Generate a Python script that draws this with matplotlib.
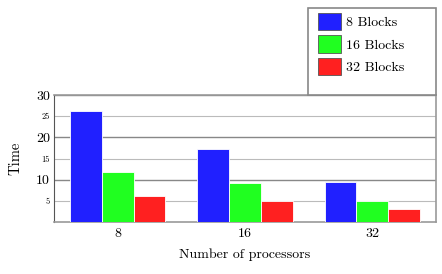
#--------------------------------------------------
# processors vs time, grouped bar chart
#--------------------------------------------------
import matplotlib as mpl
mpl.use("Agg")
import matplotlib.pyplot as plt
import numpy as np
from matplotlib.patches import Rectangle

plt.rcParams['font.family'] = ['cmr10', 'DejaVu Serif']
plt.rcParams['axes.formatter.use_mathtext'] = True

# data
processors = ['8', '16', '32']
series_names = ['8 Blocks', '16 Blocks', '32 Blocks']
blocks8 = [26.2, 17.3, 9.4]
blocks16 = [11.8, 9.2, 5.0]
blocks32 = [6.1, 5.0, 3.0]
colors = ['#2020ff', '#20ff20', '#ff2020']

fig = plt.figure(figsize=(4.42, 2.74), dpi=100)
ax = fig.add_axes([54/442, 1-222/274, (436-54)/442, (222-95)/274])

x = np.arange(len(processors))
w = 0.25
for i, (vals, name, c) in enumerate(zip([blocks8, blocks16, blocks32], series_names, colors)):
    ax.bar(x + (i-1)*w, vals, width=w, color=c, edgecolor='white', linewidth=0.6,
           label=name, zorder=3)

ax.set_xlim(-0.5, 2.5)
ax.set_ylim(0, 30)
ax.set_xticks(x)
ax.set_xticklabels(processors, fontsize=10)
ax.set_yticks([10, 20, 30])
ax.set_yticklabels(['10', '20', '30'], fontsize=10)
ax.set_yticks([5, 15, 25], minor=True)
ax.set_yticklabels(['5', '15', '25'], minor=True, fontsize=6)
ax.tick_params(axis='both', which='both', length=0, pad=3)
ax.tick_params(axis='x', pad=4)

ax.grid(axis='y', which='major', color='#888888', linewidth=1.0, zorder=0)
ax.grid(axis='y', which='minor', color='#bbbbbb', linewidth=0.8, zorder=0)

for s in ['bottom', 'right', 'top']:
    ax.spines[s].set_color('#999999')
    ax.spines[s].set_linewidth(1.2)
ax.spines['left'].set_color('#555555')

ax.set_xlabel('Number of processors', fontsize=10, labelpad=6)
ax.set_ylabel('Time', fontsize=10.5, labelpad=10)

# legend box
fig.patches.append(Rectangle((308/442, 1-95/274), (436-308)/442, (95-8)/274,
                             transform=fig.transFigure, facecolor='white',
                             edgecolor='#888888', linewidth=1.2, zorder=5))
leg = fig.legend(loc='upper left', bbox_to_anchor=(318/442, 1-13/274), frameon=False,
                 fontsize=10, handlelength=1.65, handleheight=1.55, handletextpad=0.4,
                 labelspacing=0.35, borderaxespad=0, borderpad=0)
leg.set_zorder(6)
for p in leg.get_patches():
    p.set_edgecolor('#555555')
    p.set_linewidth(0.6)

fig.savefig('out.png', dpi=100)
